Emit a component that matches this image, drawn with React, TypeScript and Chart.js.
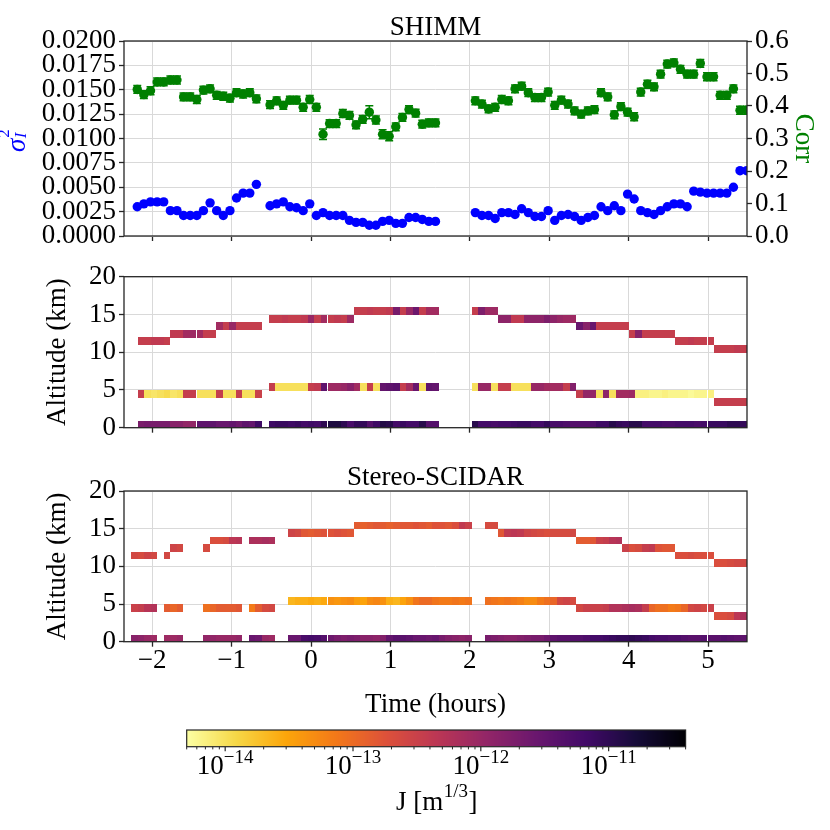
import React, { useEffect, useRef } from 'react';
import { Chart, registerables } from 'chart.js';

Chart.register(...registerables);

// ---------------- data ----------------
const xTicks = [-2, -1, 0, 1, 2, 3, 4, 5];
const sigmaTicks = [0, 0.0025, 0.005, 0.0075, 0.01, 0.0125, 0.015, 0.0175, 0.02];
const corrTicks = [0, 0.1, 0.2, 0.3, 0.4, 0.5, 0.6];
const altTicks = [0, 5, 10, 15, 20];
const jTicks = [1e-14, 1e-13, 1e-12, 1e-11];

// SHIMM integrated measurements (hours)
const shimmTimes = [
  -2.188, -2.105, -2.021, -1.938, -1.855, -1.771, -1.688, -1.605, -1.521, -1.438,
  -1.355, -1.271, -1.188, -1.105, -1.021, -0.938, -0.855, -0.771, -0.688,
  -0.516, -0.433, -0.349, -0.266, -0.183, -0.099, -0.016, 0.067, 0.151, 0.234,
  0.317, 0.401, 0.484, 0.567, 0.651, 0.734, 0.817, 0.901, 0.984, 1.067,
  1.151, 1.234, 1.317, 1.401, 1.484, 1.567,
  2.069, 2.152, 2.236, 2.319, 2.402, 2.486, 2.569, 2.652, 2.736, 2.819,
  2.902, 2.986, 3.069, 3.152, 3.236, 3.319, 3.402, 3.486, 3.569, 3.652,
  3.736, 3.819, 3.902, 3.986, 4.069, 4.152, 4.236, 4.319, 4.402, 4.486,
  4.569, 4.652, 4.736, 4.819, 4.902, 4.986, 5.069, 5.152, 5.236, 5.319,
  5.402, 5.486,
];
const sigma2 = [
  0.0030, 0.0033, 0.0035, 0.0035, 0.0035, 0.0026, 0.0026, 0.0021, 0.0021, 0.0021,
  0.0026, 0.0034, 0.0026, 0.0021, 0.0026, 0.0039, 0.0044, 0.0044, 0.0053,
  0.0031, 0.0033, 0.0035, 0.0030, 0.0029, 0.0026, 0.0033, 0.0021, 0.0024, 0.0021,
  0.0021, 0.0021, 0.0016, 0.0014, 0.0014, 0.0011, 0.0011, 0.0015, 0.0016, 0.0013,
  0.0013, 0.0019, 0.0019, 0.0017, 0.0015, 0.0015,
  0.0024, 0.0021, 0.0021, 0.0018, 0.0024, 0.0024, 0.0022, 0.0028, 0.0024, 0.0020,
  0.0020, 0.0026, 0.0016, 0.0021, 0.0022, 0.0020, 0.0016, 0.0019, 0.0021, 0.0030,
  0.0026, 0.0031, 0.0026, 0.0043, 0.0038, 0.0026, 0.0024, 0.0022, 0.0026, 0.0030,
  0.0033, 0.0033, 0.0030, 0.0046, 0.0045, 0.0044, 0.0044, 0.0044, 0.0044, 0.0050,
  0.0067, 0.0067,
];
const corr = [
  0.451, 0.435, 0.447, 0.474, 0.474, 0.480, 0.480, 0.428, 0.428, 0.420,
  0.449, 0.453, 0.433, 0.430, 0.424, 0.441, 0.437, 0.441, 0.422,
  0.404, 0.416, 0.402, 0.418, 0.418, 0.396, 0.420, 0.396, 0.313, 0.346,
  0.346, 0.377, 0.371, 0.342, 0.359, 0.381, 0.357, 0.313, 0.307, 0.336,
  0.365, 0.389, 0.378, 0.344, 0.348, 0.348,
  0.416, 0.406, 0.391, 0.396, 0.420, 0.416, 0.453, 0.461, 0.441, 0.426,
  0.426, 0.443, 0.402, 0.418, 0.406, 0.385, 0.375, 0.385, 0.389, 0.441,
  0.428, 0.373, 0.398, 0.381, 0.367, 0.443, 0.467, 0.459, 0.498, 0.529,
  0.533, 0.513, 0.498, 0.498, 0.531, 0.490, 0.490, 0.433, 0.433, 0.453,
  0.387, 0.387,
];
const corrErr = [
  0.012, 0.012, 0.012, 0.012, 0.012, 0.012, 0.012, 0.012, 0.012, 0.012,
  0.012, 0.012, 0.012, 0.012, 0.012, 0.012, 0.012, 0.012, 0.012,
  0.012, 0.012, 0.012, 0.012, 0.012, 0.012, 0.012, 0.012, 0.016, 0.012,
  0.012, 0.012, 0.012, 0.012, 0.012, 0.020, 0.012, 0.014, 0.014, 0.012,
  0.012, 0.012, 0.012, 0.012, 0.012, 0.012,
  0.012, 0.012, 0.012, 0.012, 0.012, 0.012, 0.012, 0.012, 0.012, 0.012,
  0.012, 0.012, 0.012, 0.012, 0.012, 0.012, 0.012, 0.012, 0.012, 0.012,
  0.012, 0.012, 0.012, 0.012, 0.012, 0.012, 0.012, 0.012, 0.012, 0.012,
  0.012, 0.012, 0.012, 0.012, 0.012, 0.012, 0.012, 0.012, 0.012, 0.012,
  0.012, 0.012,
];

// profile bins: start time of each 5-min bin (hours)
const profileTimes = [
  -2.267, -2.185, -2.102, -2.020, -1.937, -1.855, -1.772, -1.690, -1.607, -1.525,
  -1.442, -1.360, -1.277, -1.195, -1.112, -1.030, -0.947, -0.865, -0.782, -0.700,
  -0.617, -0.535, -0.452, -0.370, -0.287, -0.205, -0.122, -0.040, 0.043, 0.125,
  0.208, 0.290, 0.373, 0.455, 0.538, 0.620, 0.703, 0.785, 0.868, 0.950,
  1.033, 1.115, 1.198, 1.280, 1.363, 1.445, 1.528, 1.610, 1.693, 1.775,
  1.858, 1.940, 2.023, 2.105, 2.188, 2.270, 2.353, 2.435, 2.518, 2.600,
  2.683, 2.765, 2.848, 2.930, 3.013, 3.095, 3.178, 3.260, 3.343, 3.425,
  3.508, 3.590, 3.673, 3.755, 3.838, 3.920, 4.003, 4.085, 4.168, 4.250,
  4.333, 4.415, 4.498, 4.580, 4.663, 4.745, 4.828, 4.910, 4.993, 5.075,
  5.158, 5.240, 5.323, 5.405,
];

// SHIMM profile: altitude (km) of upper and middle layers, log10 J of each layer
const shimmUpperAlt = [
  null, 11, 11, 11, 11, 11, 12, 12, 12, 12, 12, 12, 12, 13, 13, 13, 13, 13, 13, 13,
  null, 14, 14, 14, 14, 14, 14, 14, 14, 14, 14, 14, 14, 14, 15, 15, 15, 15, 15, 15,
  15, 15, 15, 15, 15, 15, 15, null, null, null, null, null, 15, 15, 15, 15, 14, 14, 14, 14,
  14, 14, 14, 14, 14, 14, 14, 14, 13, 13, 13, 13, 13, 13, 13, 13, 12, 12, 12, 12,
  12, 12, 12, 11, 11, 11, 11, 11, 11, 10, 10, 10, 10, 10,
];
const shimmMidAlt = [
  null, 4, 4, 4, 4, 4, 4, 4, 4, 4, 4, 4, 4, 4, 4, 4, 4, 4, 4, 4,
  null, 5, 5, 5, 5, 5, 5, 5, 5, 5, 5, 5, 5, 5, 5, 5, 5, 5, 5, 5,
  5, 5, 5, 5, 5, 5, 5, null, null, null, null, null, 5, 5, 5, 5, 5, 5, 5, 5,
  5, 5, 5, 5, 5, 5, 5, 5, 4, 4, 4, 4, 4, 4, 4, 4, 4, 4, 4, 4,
  4, 4, 4, 4, 4, 4, 4, 4, 4, 3, 3, 3, 3, 3,
];
const shimmUpperLogJ = [
  null, -12.45, -12.45, -12.40, -12.40, -12.45, -12.40, -12.40, -12.10, -12.05, -12.10, -12.45, -12.45, -12.10, -12.45, -12.00, -12.45, -12.45, -12.45, -12.45,
  null, -12.45, -12.45, -12.40, -12.45, -12.45, -12.40, -12.00, -12.45, -12.10, -12.45, -12.40, -12.45, -12.05, -12.45, -12.45, -12.40, -12.45, -12.45, -12.40,
  -11.70, -12.45, -12.00, -11.60, -12.45, -12.10, -12.10, null, null, null, null, null, -12.45, -11.75, -12.05, -12.05, -11.90, -11.90, -12.40, -12.40,
  -11.90, -11.90, -11.90, -11.75, -11.90, -12.00, -12.05, -12.05, -11.55, -11.85, -11.55, -12.45, -12.45, -12.45, -12.45, -12.45, -12.45, -11.85, -12.45, -12.45,
  -12.45, -12.45, -12.45, -12.45, -12.45, -12.40, -12.45, -12.45, -12.45, -12.45, -12.45, -12.45, -12.40, -12.45,
];
const shimmMidLogJ = [
  null, -12.45, -14.00, -14.05, -14.00, -13.95, -14.05, -14.00, -12.45, -12.45, -14.00, -14.00, -14.00, -12.45, -14.00, -14.00, -12.45, -14.00, -14.00, -12.50,
  null, -12.45, -14.00, -14.00, -14.00, -14.00, -14.00, -12.45, -12.40, -11.45, -12.05, -12.05, -12.00, -11.85, -12.10, -14.00, -12.45, -14.00, -11.50, -11.45,
  -11.40, -12.45, -12.10, -11.55, -14.00, -11.45, -11.50, null, null, null, null, null, -14.00, -12.00, -12.00, -14.00, -12.45, -12.45, -14.00, -14.00,
  -14.00, -12.00, -12.00, -12.10, -12.10, -12.10, -12.45, -11.80, -12.45, -11.95, -11.95, -14.00, -11.90, -14.00, -12.10, -12.10, -12.05, -14.15, -14.15, -14.20,
  -14.20, -14.15, -14.20, -14.20, -14.20, -14.25, -14.20, -14.20, -14.15, -12.45, -12.45, -12.45, -12.45, -12.45,
];
const shimmGroundLogJ = [
  null, -11.72, -11.68, -11.70, -11.70, -11.70, -11.85, -11.85, -11.95, -11.95, -11.45, -11.45, -11.45, -11.55, -11.55, -11.50, -11.60, -11.45, -11.50, -11.15,
  null, -11.15, -11.10, -11.10, -11.15, -11.10, -11.20, -11.15, -11.20, -11.00, -10.85, -10.85, -11.00, -11.25, -11.05, -11.05, -11.35, -11.15, -10.90, -10.95,
  -11.20, -11.10, -11.20, -11.20, -10.95, -11.35, -11.35, null, null, null, null, null, -10.95, -11.20, -11.20, -11.25, -11.20, -11.20, -11.15, -11.10,
  -11.10, -11.20, -11.20, -11.05, -11.25, -11.25, -11.30, -11.35, -11.35, -11.35, -11.30, -11.15, -11.15, -10.95, -11.05, -11.10, -10.95, -10.95, -11.20, -11.20,
  -11.20, -11.25, -11.25, -11.20, -11.20, -11.20, -11.25, -11.20, -11.10, -11.10, -11.10, -11.00, -11.00, -11.05,
];

// Stereo-SCIDAR profile
const scidarUpperAlt = [
  11, 11, 11, 11, null, 11, 12, 12, null, null, null, 12, 13, 13, 13, 13, 13, null, 13, 13,
  13, 13, null, null, 14, 14, 14, 14, 14, 14, 14, 14, 14, 14, 15, 15, 15, 15, 15, 15,
  15, 15, 15, 15, 15, 15, 15, 15, 15, 15, 15, 15, null, null, 15, 15, 14, 14, 14, 14,
  14, 14, 14, 14, 14, 14, 14, 14, 13, 13, 13, 13, 13, 13, 13, 12, 12, 12, 12, 12,
  12, 12, 12, 11, 11, 11, 11, 11, 11, 10, 10, 10, 10, 10,
];
const scidarMidAlt = [
  4, 4, 4, 4, null, 4, 4, 4, null, null, null, 4, 4, 4, 4, 4, 4, null, 4, 4,
  4, 4, null, null, 5, 5, 5, 5, 5, 5, 5, 5, 5, 5, 5, 5, 5, 5, 5, 5,
  5, 5, 5, 5, 5, 5, 5, 5, 5, 5, 5, 5, null, null, 5, 5, 5, 5, 5, 5,
  5, 5, 5, 5, 5, 5, 5, 5, 4, 4, 4, 4, 4, 4, 4, 4, 4, 4, 4, 4,
  4, 4, 4, 4, 4, 4, 4, 4, 4, 3, 3, 3, 3, 3,
];
const scidarUpperLogJ = [
  -12.60, -12.65, -12.55, -12.60, null, -12.60, -12.55, -12.60, null, null, null, -12.65, -12.70, -12.70, -12.65, -12.35, -12.30, null, -12.20, -12.20,
  -12.15, -12.20, null, null, -12.55, -12.60, -12.80, -12.85, -12.80, -12.75, -12.75, -12.70, -12.75, -12.80, -12.85, -12.90, -12.85, -12.80, -12.85, -12.90,
  -12.85, -12.80, -12.80, -12.75, -12.80, -12.85, -12.75, -12.75, -12.80, -12.70, -12.40, -12.50, null, null, -12.65, -12.65, -12.80, -12.40, -12.35, -12.40,
  -12.55, -12.60, -12.65, -12.70, -12.65, -12.65, -12.65, -12.60, -12.85, -12.85, -12.80, -12.50, -12.45, -12.30, -12.25, -12.50, -12.70, -12.65, -12.45, -12.40,
  -12.75, -12.80, -12.80, -12.70, -12.70, -12.65, -12.70, -12.70, -12.70, -12.70, -12.70, -12.65, -12.60, -12.60,
];
const scidarMidLogJ = [
  -12.50, -12.45, -12.30, -12.25, null, -12.85, -12.95, -12.85, null, null, null, -13.05, -12.95, -12.85, -12.85, -12.85, -12.80, null, -13.15, -12.85,
  -12.65, -12.60, null, null, -13.65, -13.60, -13.60, -13.55, -13.60, -13.55, -13.35, -13.40, -13.35, -13.30, -13.45, -13.50, -13.30, -13.25, -13.35, -13.60,
  -13.65, -13.50, -13.35, -13.10, -13.00, -13.00, -13.10, -13.15, -13.15, -13.10, -13.15, -13.10, null, null, -13.05, -13.10, -13.15, -13.10, -13.15, -13.20,
  -13.30, -13.30, -13.15, -13.05, -12.95, -12.60, -12.55, -12.65, -12.60, -12.50, -12.50, -12.50, -12.45, -12.25, -12.25, -12.20, -12.15, -12.20, -12.45, -12.95,
  -13.05, -13.05, -13.15, -13.10, -12.95, -12.60, -12.55, -12.60, -12.50, -12.70, -12.70, -12.65, -12.35, -12.20,
];
const scidarGroundLogJ = [
  -11.85, -11.90, -12.00, -12.05, null, -12.05, -12.05, -12.00, null, null, null, -11.95, -11.95, -12.00, -12.00, -12.00, -11.95, null, -11.55, -11.60,
  -12.00, -12.05, null, null, -11.55, -11.55, -11.25, -11.20, -11.25, -11.35, -11.60, -11.70, -11.75, -11.70, -11.75, -11.85, -11.85, -11.90, -11.80, -11.50,
  -11.40, -11.40, -11.45, -11.55, -11.55, -11.60, -11.55, -11.70, -11.80, -11.85, -11.90, -11.85, null, null, -11.70, -11.75, -11.80, -11.85, -11.85, -11.80,
  -11.75, -11.70, -11.70, -11.60, -11.45, -11.40, -11.40, -11.35, -11.35, -11.30, -11.20, -11.20, -11.15, -11.10, -11.05, -11.05, -11.00, -11.05, -11.10, -11.20,
  -11.25, -11.25, -11.30, -11.30, -11.35, -11.40, -11.40, -11.35, -11.40, -11.40, -11.35, -11.40, -11.45, -11.45,
];

// colour-scale limits of J (m^1/3)
const J_MIN = 5e-15;
const J_MAX = 4e-11;

// ---------------- style / layout ----------------
const SERIF = '"Liberation Serif", "Times New Roman", Times, serif';
const X_MIN = -2.355;
const X_MAX = 5.49;
const PROFILE_BIN = 0.0825;
const CELL_UP = 0.95;
const CELL_DOWN = 0.08;
const GRID = '#d9d9d9';
const AXIS = '#262626';
const BLUE = '#0000ff';
const GREEN = '#008000';
const W = 830;
const PLOT_LEFT = 124;
const PLOT_RIGHT = 747;

const INFERNO = ['#000004', '#160b39', '#420a68', '#6a176e', '#932667', '#bc3754', '#dd513a', '#f37819', '#fca50a', '#f6d746', '#fcffa4'];
const INFERNO_RGB = INFERNO.map((h) => [parseInt(h.slice(1, 3), 16), parseInt(h.slice(3, 5), 16), parseInt(h.slice(5, 7), 16)]);
function inferno(v: number) {
  const c = Math.max(0, Math.min(1, v)) * 10;
  const i = Math.min(9, Math.floor(c));
  const f = c - i;
  const a = INFERNO_RGB[i];
  const b = INFERNO_RGB[i + 1];
  const m = (k: number) => Math.round(a[k] + (b[k] - a[k]) * f);
  return `rgb(${m(0)},${m(1)},${m(2)})`;
}
const LOG_MIN = Math.log10(J_MIN);
const LOG_MAX = Math.log10(J_MAX);
function jColor(logJ: number) {
  const f = (logJ - LOG_MIN) / (LOG_MAX - LOG_MIN);
  return inferno(1 - f); // reversed inferno: small J = light yellow
}

type Cell = { t0: number; t1: number; alt: number; logJ: number };
function buildCells(upAlt: any[], upJ: any[], midAlt: any[], midJ: any[], groundJ: any[]) {
  const cells: Cell[] = [];
  profileTimes.forEach((t, k) => {
    const t1 = t + PROFILE_BIN;
    if (groundJ[k] != null) cells.push({ t0: t, t1, alt: 0, logJ: groundJ[k] });
    if (midAlt[k] != null && midJ[k] != null) cells.push({ t0: t, t1, alt: midAlt[k], logJ: midJ[k] });
    if (upAlt[k] != null && upJ[k] != null) cells.push({ t0: t, t1, alt: upAlt[k], logJ: upJ[k] });
  });
  return cells;
}

function fmtMinus(v: number) {
  return v < 0 ? '\u2212' + String(-v) : String(v);
}

function drawText(ctx: CanvasRenderingContext2D, text: string, x: number, y: number, o: any = {}) {
  ctx.save();
  ctx.translate(x, y);
  if (o.rot) ctx.rotate(o.rot);
  ctx.font = `${o.italic ? 'italic ' : ''}${o.size || 27}px ${SERIF}`;
  ctx.fillStyle = o.color || '#000';
  ctx.textAlign = o.align || 'center';
  ctx.textBaseline = o.baseline || 'alphabetic';
  ctx.fillText(text, 0, 0);
  ctx.restore();
}

const tickFont = { family: SERIF, size: 27, lineHeight: 1 };
const fixedTicks = (vals: number[]) => (s: any) => {
  s.ticks = vals.map((v) => ({ value: v }));
};
const gridOpts = (onArea = true) => ({
  display: true,
  drawOnChartArea: onArea,
  color: GRID,
  lineWidth: 1,
  drawTicks: true,
  tickLength: 5,
  tickColor: AXIS,
  tickWidth: 1.3,
});
// fixed axis thickness, no automatic label padding: the plot area sits exactly where the figure has it
const fixWidth = (w: number) => (s: any) => {
  s.width = w;
  s.paddingTop = 0;
  s.paddingBottom = 0;
};
const fixHeight = (h: number) => (s: any) => {
  s.height = h;
  s.paddingLeft = 0;
  s.paddingRight = 0;
};

function xAxis(height: number, showLabels: boolean) {
  return {
    type: 'linear',
    min: X_MIN,
    max: X_MAX,
    afterBuildTicks: fixedTicks(xTicks),
    afterFit: fixHeight(height),
    border: { display: false },
    grid: gridOpts(true),
    ticks: {
      display: showLabels,
      font: tickFont,
      color: '#000',
      padding: 1,
      maxRotation: 0,
      autoSkip: false,
      callback: (v: any) => fmtMinus(Number(v)),
    },
  };
}

function altAxis() {
  return {
    type: 'linear',
    position: 'left',
    min: 0,
    max: 20,
    afterBuildTicks: fixedTicks(altTicks),
    afterFit: fixWidth(PLOT_LEFT),
    border: { display: false },
    grid: gridOpts(true),
    ticks: { font: tickFont, color: '#000', padding: 3, autoSkip: false, callback: (v: any) => String(v) },
  };
}

const framePlugin = {
  id: 'frame',
  afterDraw(chart: any) {
    const { ctx, chartArea: a } = chart;
    ctx.save();
    ctx.strokeStyle = AXIS;
    ctx.lineWidth = 1.3;
    ctx.strokeRect(a.left, a.top, a.right - a.left, a.bottom - a.top);
    ctx.restore();
  },
};

function cellsPlugin(cells: Cell[]) {
  return {
    id: 'cells',
    beforeDatasetsDraw(chart: any) {
      const { ctx, chartArea: a, scales } = chart;
      const xs = scales.x;
      const ys = scales.y;
      ctx.save();
      ctx.beginPath();
      ctx.rect(a.left, a.top, a.right - a.left, a.bottom - a.top);
      ctx.clip();
      for (const c of cells) {
        const x0 = Math.round(xs.getPixelForValue(c.t0));
        const x1 = Math.round(xs.getPixelForValue(c.t1));
        const y0 = Math.round(ys.getPixelForValue(c.alt + CELL_UP));
        const y1 = Math.round(ys.getPixelForValue(c.alt - CELL_DOWN));
        ctx.fillStyle = jColor(c.logJ);
        ctx.fillRect(x0, y0, x1 - x0, y1 - y0);
      }
      ctx.restore();
    },
  };
}

const errorBarPlugin = {
  id: 'errbars',
  beforeDatasetsDraw(chart: any) {
    const { ctx, chartArea: a, scales } = chart;
    const xs = scales.x;
    const ys = scales.y1;
    ctx.save();
    ctx.beginPath();
    ctx.rect(a.left, a.top, a.right - a.left, a.bottom - a.top);
    ctx.clip();
    ctx.strokeStyle = GREEN;
    ctx.lineWidth = 1.5;
    shimmTimes.forEach((t, i) => {
      const x = xs.getPixelForValue(t);
      const lo = ys.getPixelForValue(corr[i] - corrErr[i]);
      const hi = ys.getPixelForValue(corr[i] + corrErr[i]);
      ctx.beginPath();
      ctx.moveTo(x, lo);
      ctx.lineTo(x, hi);
      ctx.moveTo(x - 4, lo);
      ctx.lineTo(x + 4, lo);
      ctx.moveTo(x - 4, hi);
      ctx.lineTo(x + 4, hi);
      ctx.stroke();
    });
    ctx.restore();
  },
};

const baseOptions = (padTop: number, padRight: number, padLeft = 0, padBottom = 0) => ({
  animation: false,
  responsive: false,
  maintainAspectRatio: false,
  events: [],
  layout: { padding: { top: padTop, right: padRight, left: padLeft, bottom: padBottom }, autoPadding: false },
  plugins: { legend: { display: false }, tooltip: { enabled: false }, title: { display: false } },
});

// ---------------- chart configs ----------------
function topConfig() {
  const textPlugin = {
    id: 'toptext',
    afterDraw(chart: any) {
      const ctx = chart.ctx;
      drawText(ctx, 'SHIMM', (PLOT_LEFT + PLOT_RIGHT) / 2, 35);
      drawText(ctx, 'Corr', 795.5, 138.5, { rot: Math.PI / 2, color: GREEN });
      // sigma_I^2 label, rotated
      ctx.save();
      ctx.translate(25, 152);
      ctx.rotate(-Math.PI / 2);
      ctx.fillStyle = BLUE;
      ctx.textAlign = 'left';
      ctx.textBaseline = 'alphabetic';
      ctx.font = `italic 27px ${SERIF}`;
      ctx.fillText('\u03c3', 0, 0);
      const w = ctx.measureText('\u03c3').width;
      ctx.font = `italic 17px ${SERIF}`;
      ctx.fillText('I', w + 0.5, 1);
      ctx.font = `17px ${SERIF}`;
      ctx.fillText('2', w + 1, -16);
      ctx.restore();
    },
  };
  return {
    type: 'scatter',
    data: {
      datasets: [
        {
          data: shimmTimes.map((t, i) => ({ x: t, y: sigma2[i] })),
          yAxisID: 'y',
          backgroundColor: BLUE,
          borderColor: BLUE,
          pointRadius: 4.7,
          pointBorderWidth: 0,
          clip: 0,
        },
        {
          data: shimmTimes.map((t, i) => ({ x: t, y: corr[i] })),
          yAxisID: 'y1',
          backgroundColor: GREEN,
          borderColor: GREEN,
          pointRadius: 4.7,
          pointBorderWidth: 0,
          clip: 0,
        },
      ],
    },
    options: {
      ...baseOptions(41, 0),
      scales: {
        x: xAxis(250 - 236, false),
        y: {
          type: 'linear',
          position: 'left',
          min: 0,
          max: 0.02,
          afterBuildTicks: fixedTicks(sigmaTicks),
          afterFit: fixWidth(PLOT_LEFT),
          border: { display: false },
          grid: gridOpts(true),
          ticks: { font: tickFont, color: '#000', padding: 3, autoSkip: false, callback: (v: any) => Number(v).toFixed(4) },
        },
        y1: {
          type: 'linear',
          position: 'right',
          min: 0,
          max: 0.6,
          afterBuildTicks: fixedTicks(corrTicks),
          afterFit: fixWidth(W - PLOT_RIGHT),
          border: { display: false },
          grid: gridOpts(false),
          ticks: { font: tickFont, color: '#000', padding: 3, autoSkip: false, callback: (v: any) => Number(v).toFixed(1) },
        },
      },
    },
    plugins: [errorBarPlugin, framePlugin, textPlugin],
  };
}

function middleConfig() {
  const cells = buildCells(shimmUpperAlt, shimmUpperLogJ, shimmMidAlt, shimmMidLogJ, shimmGroundLogJ);
  const textPlugin = {
    id: 'midtext',
    afterDraw(chart: any) {
      drawText(chart.ctx, 'Altitude (km)', 65, 352.2 - 250, { rot: -Math.PI / 2 });
    },
  };
  return {
    type: 'scatter',
    data: { datasets: [] },
    options: {
      ...baseOptions(26.7, W - PLOT_RIGHT),
      scales: { x: xAxis(190 - 177.7, false), y: altAxis() },
    },
    plugins: [cellsPlugin(cells), framePlugin, textPlugin],
  };
}

function bottomConfig() {
  const cells = buildCells(scidarUpperAlt, scidarUpperLogJ, scidarMidAlt, scidarMidLogJ, scidarGroundLogJ);
  const textPlugin = {
    id: 'bottext',
    afterDraw(chart: any) {
      const ctx = chart.ctx;
      drawText(ctx, 'Stereo-SCIDAR', (PLOT_LEFT + PLOT_RIGHT) / 2, 485 - 440);
      drawText(ctx, 'Altitude (km)', 65, (491 + 641.7) / 2 - 440, { rot: -Math.PI / 2 });
      drawText(ctx, 'Time (hours)', (PLOT_LEFT + PLOT_RIGHT) / 2, 711.5 - 440);
    },
  };
  return {
    type: 'scatter',
    data: { datasets: [] },
    options: {
      ...baseOptions(51, W - PLOT_RIGHT),
      scales: { x: xAxis(280 - 201.7, true), y: altAxis() },
    },
    plugins: [cellsPlugin(cells), framePlugin, textPlugin],
  };
}

function colorbarConfig() {
  const plugin = {
    id: 'colorbar',
    afterDraw(chart: any) {
      const { ctx, chartArea: a } = chart;
      const xs = chart.scales.x;
      ctx.save();
      ctx.beginPath();
      ctx.rect(a.left, a.top, a.right - a.left, a.bottom - a.top);
      ctx.clip();
      for (let px = Math.floor(a.left); px < Math.ceil(a.right); px++) {
        const v = xs.getValueForPixel(px + 0.5);
        ctx.fillStyle = jColor(Math.log10(v));
        ctx.fillRect(px, a.top, 1, a.bottom - a.top);
      }
      ctx.restore();
      ctx.save();
      ctx.strokeStyle = AXIS;
      ctx.lineWidth = 1.2;
      ctx.strokeRect(a.left, a.top, a.right - a.left, a.bottom - a.top);
      // minor ticks
      ctx.lineWidth = 1;
      for (let d = -15; d <= -11; d++) {
        for (let m = 2; m <= 9; m++) {
          const v = m * Math.pow(10, d);
          if (v < J_MIN || v > J_MAX) continue;
          const x = xs.getPixelForValue(v);
          ctx.beginPath();
          ctx.moveTo(x, a.bottom);
          ctx.lineTo(x, a.bottom + 2.7);
          ctx.stroke();
        }
      }
      // major ticks + labels
      ctx.lineWidth = 1.2;
      jTicks.forEach((v) => {
        const x = xs.getPixelForValue(v);
        ctx.beginPath();
        ctx.moveTo(x, a.bottom);
        ctx.lineTo(x, a.bottom + 4.5);
        ctx.stroke();
        const exp = '\u2212' + String(Math.abs(Math.round(Math.log10(v))));
        ctx.font = `27px ${SERIF}`;
        const wb = ctx.measureText('10').width;
        ctx.font = `19px ${SERIF}`;
        const we = ctx.measureText(exp).width;
        const x0 = x - (wb + we) / 2;
        drawText(ctx, '10', x0, 774.3 - 720, { align: 'left' });
        drawText(ctx, exp, x0 + wb, 763.3 - 720, { align: 'left', size: 19 });
      });
      // colorbar label J [m^{1/3}]
      ctx.font = `27px ${SERIF}`;
      const w1 = ctx.measureText('J [m').width;
      const w3 = ctx.measureText(']').width;
      ctx.font = `19px ${SERIF}`;
      const w2 = ctx.measureText('1/3').width;
      const cx = (a.left + a.right) / 2;
      const sx = cx - (w1 + w2 + w3) / 2;
      drawText(ctx, 'J [m', sx, 810 - 720, { align: 'left' });
      drawText(ctx, '1/3', sx + w1 + 0.5, 796.7 - 720, { align: 'left', size: 19 });
      drawText(ctx, ']', sx + w1 + w2 + 1, 810 - 720, { align: 'left' });
      ctx.restore();
    },
  };
  return {
    type: 'scatter',
    data: { datasets: [] },
    options: {
      ...baseOptions(730 - 720, W - 685.6, 186.7, 110 - 26.7),
      scales: {
        x: { type: 'logarithmic', min: J_MIN, max: J_MAX, display: false },
        y: { type: 'linear', min: 0, max: 1, display: false },
      },
    },
    plugins: [plugin],
  };
}

// ---------------- components ----------------
function ChartBox({ top, height, make }: { top: number; height: number; make: () => any }) {
  const ref = useRef<HTMLCanvasElement>(null);
  useEffect(() => {
    const chart = new Chart(ref.current as HTMLCanvasElement, make());
    return () => chart.destroy();
  }, [make]);
  return (
    <canvas
      ref={ref}
      width={W}
      height={height}
      style={{ position: 'absolute', left: 0, top, width: W, height, display: 'block' }}
    />
  );
}

export default function App() {
  return (
    <div style={{ position: 'absolute', left: 0, top: 0, width: W, height: 830, background: '#fff', overflow: 'hidden' }}>
      <ChartBox top={0} height={250} make={topConfig} />
      <ChartBox top={250} height={190} make={middleConfig} />
      <ChartBox top={440} height={280} make={bottomConfig} />
      <ChartBox top={720} height={110} make={colorbarConfig} />
    </div>
  );
}
